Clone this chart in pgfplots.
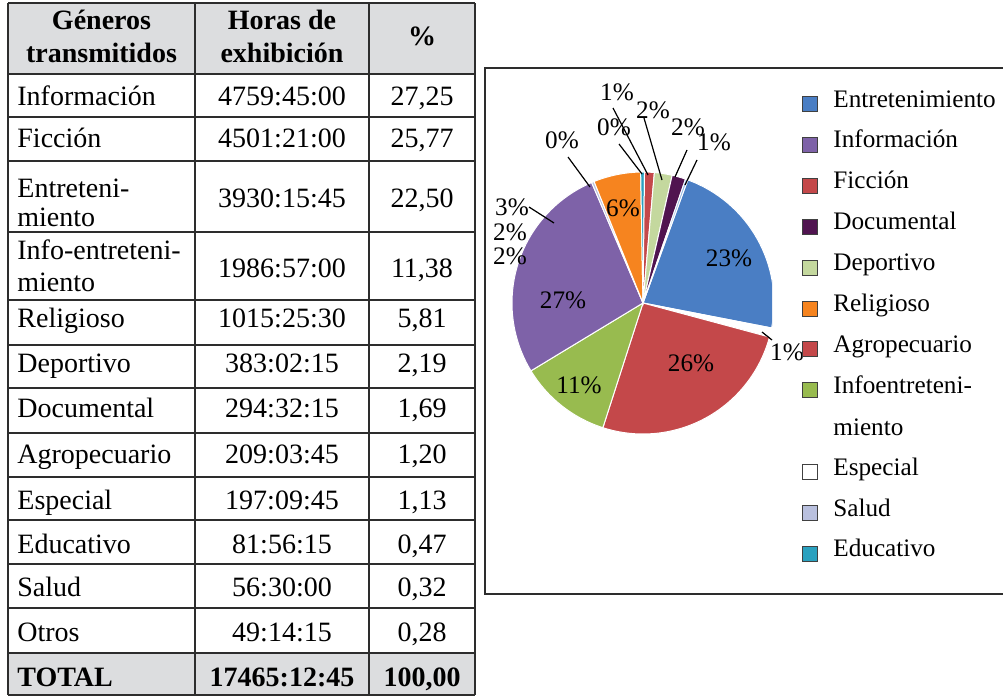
\documentclass[border=0pt]{standalone}
\usepackage{pgfplots}
\pgfplotsset{compat=1.18}
\usepackage{pgfplotstable}
\usepackage{fontspec}
\setmainfont{Liberation Serif}

\definecolor{cEnt}{RGB}{74,126,196}
\definecolor{cInfo}{RGB}{126,98,168}
\definecolor{cFic}{RGB}{196,72,74}
\definecolor{cDoc}{RGB}{80,20,80}
\definecolor{cDep}{RGB}{196,216,158}
\definecolor{cRel}{RGB}{246,132,31}
\definecolor{cAgr}{RGB}{196,72,74}
\definecolor{cInfEnt}{RGB}{152,187,79}
\definecolor{cEsp}{RGB}{255,255,255}
\definecolor{cSal}{RGB}{185,192,222}
\definecolor{cEdu}{RGB}{42,161,191}
\definecolor{cOtr}{RGB}{141,179,226}
\definecolor{hdrgray}{RGB}{220,221,223}
\definecolor{tline}{RGB}{45,45,45}

% pie data, in drawing order (clockwise from 70 degrees)
\pgfplotstableread{
genre pct col
Entretenimiento 22.50 cEnt
Especial 1.13 cEsp
Ficcion 25.77 cFic
Infoentretenimiento 11.38 cInfEnt
Informacion 27.25 cInfo
Salud 0.32 cSal
Religioso 5.81 cRel
Educativo 0.47 cEdu
Agropecuario 1.20 cAgr
Deportivo 2.19 cDep
Documental 1.69 cDoc
Otros 0.28 cOtr
}\piedata

\begin{document}
\begin{tikzpicture}[x=0.5pt,y=0.5pt,
  tab/.style={font=\fontsize{14}{16}\selectfont, inner sep=0pt},
  tabb/.style={font=\fontsize{14}{16}\selectfont\bfseries, inner sep=0pt},
  lab/.style={font=\fontsize{12.6}{14}\selectfont, inner sep=0pt},
  leader/.style={line width=0.6pt, black}]
\useasboundingbox (0,0) rectangle (1003,-696);
\fill[white] (0,0) rectangle (1003,-696);

% ---------------- table ----------------
\fill[hdrgray] (8,-3) rectangle (475,-74);
\fill[hdrgray] (8,-653) rectangle (475,-695);
\foreach \yy in {3,74,117,161,232,300,345,388,433,477,520,564,608,653,695}
  \draw[tline, line width=1pt] (8,-\yy) -- (475,-\yy);
\foreach \xx in {8,195,369,475}
  \draw[tline, line width=1pt] (\xx,-3) -- (\xx,-695);

% header
\node[tabb, anchor=base] at (101.5,-30) {Géneros};
\node[tabb, anchor=base] at (101.5,-62) {transmitidos};
\node[tabb, anchor=base] at (282,-30) {Horas de};
\node[tabb, anchor=base] at (282,-62) {exhibición};
\node[tabb, anchor=base] at (422,-46) {\%};

% body
\node[tab, anchor=base west] at (17,-105) {Información};
\node[tab, anchor=base] at (282,-105) {4759:45:00};
\node[tab, anchor=base] at (422,-105) {27,25};

\node[tab, anchor=base west] at (17,-148) {Ficción};
\node[tab, anchor=base] at (282,-148) {4501:21:00};
\node[tab, anchor=base] at (422,-148) {25,77};

\node[tab, anchor=base west] at (17,-197) {Entreteni-};
\node[tab, anchor=base west] at (17,-226) {miento};
\node[tab, anchor=base] at (282,-207) {3930:15:45};
\node[tab, anchor=base] at (422,-207) {22,50};

\node[tab, anchor=base west] at (17,-259) {Info-entreteni-};
\node[tab, anchor=base west] at (17,-291) {miento};
\node[tab, anchor=base] at (282,-277) {1986:57:00};
\node[tab, anchor=base] at (422,-277) {11,38};

\node[tab, anchor=base west] at (17,-327) {Religioso};
\node[tab, anchor=base] at (282,-327) {1015:25:30};
\node[tab, anchor=base] at (422,-327) {5,81};

\node[tab, anchor=base west] at (17,-372) {Deportivo};
\node[tab, anchor=base] at (282,-372) {383:02:15};
\node[tab, anchor=base] at (422,-372) {2,19};

\node[tab, anchor=base west] at (17,-417) {Documental};
\node[tab, anchor=base] at (282,-417) {294:32:15};
\node[tab, anchor=base] at (422,-417) {1,69};

\node[tab, anchor=base west] at (17,-463) {Agropecuario};
\node[tab, anchor=base] at (282,-463) {209:03:45};
\node[tab, anchor=base] at (422,-463) {1,20};

\node[tab, anchor=base west] at (17,-509) {Especial};
\node[tab, anchor=base] at (282,-509) {197:09:45};
\node[tab, anchor=base] at (422,-509) {1,13};

\node[tab, anchor=base west] at (17,-553) {Educativo};
\node[tab, anchor=base] at (282,-553) {81:56:15};
\node[tab, anchor=base] at (422,-553) {0,47};

\node[tab, anchor=base west] at (17,-596) {Salud};
\node[tab, anchor=base] at (282,-596) {56:30:00};
\node[tab, anchor=base] at (422,-596) {0,32};

\node[tab, anchor=base west] at (17,-641) {Otros};
\node[tab, anchor=base] at (282,-641) {49:14:15};
\node[tab, anchor=base] at (422,-641) {0,28};

\node[tabb, anchor=base west] at (17,-686) {TOTAL};
\node[tabb, anchor=base] at (282,-686) {17465:12:45};
\node[tabb, anchor=base] at (422,-686) {100,00};

% ---------------- chart frame ----------------
\draw[tline, line width=0.8pt] (1010,-68) -- (485,-68) -- (485,-594) -- (1010,-594);

% ---------------- pie ----------------
% axis unit = 131 px (radius); origin at pixel (643,303) = (321.5pt,-151.5pt)
\begin{axis}[at={(321.5pt,-151.5pt)}, anchor=origin, hide axis,
  x=65.5pt, y=65.5pt, xmin=-1.03, xmax=0.985, ymin=-1.03, ymax=1.03, clip=true]
\pgfplotstablegetrowsof{\piedata}
\pgfmathtruncatemacro\lastrow{\pgfplotsretval-1}
\xdef\cum{0}
\foreach \i in {0,...,\lastrow}{%
  \pgfplotstablegetelem{\i}{pct}\of\piedata
  \let\slicepct=\pgfplotsretval
  \pgfplotstablegetelem{\i}{col}\of\piedata
  \let\slicecol=\pgfplotsretval
  \pgfmathsetmacro\angA{70-3.6*\cum}
  \pgfmathsetmacro\angB{\angA-3.6*\slicepct}
  \pgfmathsetmacro\newcum{\cum+\slicepct}
  \xdef\cum{\newcum}
  \edef\doslice{\noexpand\fill[fill=\slicecol, draw=white, line width=0.5pt]
    (axis cs:0,0) -- (axis cs:{cos(\angA)},{sin(\angA)})
    arc[start angle=\angA, end angle=\angB, radius=65.5pt] -- cycle;}%
  \doslice
}
\end{axis}

% pie labels
\node[lab] at (623,-208) {6\%};
\node[lab] at (729,-258) {23\%};
\node[lab] at (563,-300) {27\%};
\node[lab] at (691,-363) {26\%};
\node[lab] at (579,-385) {11\%};

\node[lab] at (562,-140) {0\%};
\draw[leader] (568,-157) -- (590,-187);
\node[lab] at (614,-127) {0\%};
\draw[leader] (619,-144) -- (642,-174);
\node[lab] at (617,-92) {1\%};
\draw[leader] (613,-108) -- (648,-175);
\node[lab] at (653,-110) {2\%};
\draw[leader] (644,-118) -- (662,-180);
\node[lab] at (688,-127) {2\%};
\draw[leader] (687,-150) -- (675,-177);
\node[lab] at (714,-142) {1\%};
\draw[leader] (697,-160) -- (685,-185);

\node[lab] at (512,-207) {3\%};
\draw[leader] (529,-207) -- (554,-223);
\node[lab] at (510,-232) {2\%};
\node[lab] at (510,-256) {2\%};

\node[lab] at (787,-352) {1\%};
\draw[leader] (762,-332) -- (772,-340);

% ---------------- legend ----------------
\foreach \k/\cc/\txt in {0/cEnt/Entretenimiento, 1/cInfo/Información, 2/cFic/Ficción,
    3/cDoc/Documental, 4/cDep/Deportivo, 5/cRel/Religioso, 6/cAgr/Agropecuario,
    7/cInfEnt/Infoentreteni-, 9/cEsp/Especial, 10/cSal/Salud, 11/cEdu/Educativo}{
  \pgfmathsetmacro\by{107+40.9*\k}
  \filldraw[fill=\cc, draw=black!75, line width=0.5pt] (802,-\by+10.5) rectangle (817,-\by-4.5);
  \node[lab, anchor=base west] at (833,-\by) {\txt};
}
\node[lab, anchor=base west] at (833,-435) {miento};
\end{tikzpicture}
\end{document}
